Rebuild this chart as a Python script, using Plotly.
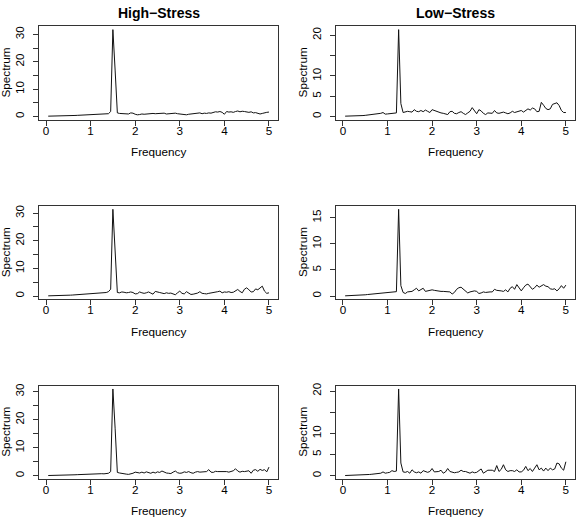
import plotly.graph_objects as go

W, H = 577, 527

# frequency grid (0.05 .. 5.00)
freq = [round(0.05 * k, 2) for k in range(1, 101)]

high_1 = [0.1,0.1,0.12,0.13,0.15,0.17,0.2,0.22,0.25,0.28,
          0.3,0.33,0.36,0.4,0.45,0.5,0.55,0.5,0.6,0.65,
          0.7,0.75,0.8,0.9,0.85,0.8,0.9,1.0,1.8,31.8,
          17,1.3,1.1,1.0,0.9,0.8,0.9,1.3,1.2,0.8,
          0.6,0.7,0.9,0.8,0.9,1.0,0.9,1.1,1.0,1.0,
          1.1,1.0,1.2,0.9,1.0,0.9,1.1,1.2,1.0,0.9,
          0.6,0.7,0.6,0.8,0.9,0.8,1.0,1.1,1.3,1.0,
          1.2,1.1,1.3,1.2,1.4,1.7,1.6,1.8,1.5,0.8,
          1.8,1.6,1.7,1.5,1.8,2.0,1.7,1.9,1.8,1.6,
          1.5,1.7,1.3,1.4,1.2,0.9,1.1,1.4,1.5,1.6]

low_1 = [0.1,0.1,0.12,0.14,0.16,0.18,0.2,0.22,0.25,0.3,
         0.35,0.45,0.5,0.5,0.55,0.6,0.8,1.0,0.6,0.65,
         0.7,0.75,0.7,0.9,21.4,3.2,1.0,1.1,1.3,1.2,
         1.1,1.7,1.3,1.2,1.5,1.2,1.6,1.3,1.0,1.7,
         1.5,1.3,1.0,0.9,0.8,0.6,0.5,1.2,1.3,0.8,
         0.7,1.0,1.2,0.8,0.5,0.9,1.3,2.2,1.3,0.7,
         1.7,1.4,0.8,0.5,0.9,0.9,0.8,1.5,0.9,0.8,
         0.9,1.1,0.9,0.7,0.9,1.3,1.0,1.2,1.3,1.5,
         1.1,1.5,1.9,1.6,2.1,1.9,1.2,1.3,3.5,2.8,
         2.0,1.7,1.9,3.0,3.2,3.4,2.7,1.5,1.0,1.0]

high_2 = [0.1,0.1,0.12,0.14,0.16,0.18,0.2,0.22,0.25,0.3,
          0.35,0.4,0.45,0.5,0.6,0.7,0.8,0.75,0.9,0.85,
          0.8,0.9,1.0,1.1,1.0,1.1,1.3,1.6,2.5,31.4,
          17,1.3,1.2,1.5,1.4,1.2,1.3,1.5,1.3,0.8,
          0.9,1.5,1.2,1.0,1.2,1.5,1.1,0.7,1.7,1.6,
          1.3,1.1,0.9,1.2,1.0,1.1,0.8,0.5,1.2,1.8,
          1.0,0.8,1.6,1.2,0.6,0.7,0.8,1.1,1.6,1.0,
          0.9,0.8,1.0,1.1,1.3,1.4,1.6,1.8,1.2,1.5,
          1.4,1.6,1.3,1.4,1.8,2.4,1.7,1.2,2.5,3.0,
          2.3,1.5,1.6,2.6,2.3,3.0,3.6,1.8,1.0,1.2]

low_2 = [0.05,0.06,0.08,0.1,0.12,0.15,0.18,0.2,0.22,0.25,
         0.3,0.35,0.4,0.45,0.5,0.55,0.6,0.65,0.7,0.7,
         0.75,0.8,0.8,0.85,16.6,2.0,0.7,0.5,0.8,0.8,
         0.9,1.2,1.5,1.0,1.2,1.5,0.9,1.0,1.1,1.2,
         1.1,1.0,0.9,0.9,0.9,0.9,0.9,0.8,0.4,0.7,
         1.3,1.6,1.7,1.3,1.0,0.6,0.8,0.9,1.0,0.9,
         0.5,0.6,0.8,0.7,0.8,0.8,0.8,1.3,1.1,1.1,
         1.0,0.9,1.2,0.8,1.5,1.8,1.3,2.2,1.6,1.0,
         1.6,2.1,2.3,1.8,1.3,1.6,2.1,1.7,2.0,2.2,
         1.9,1.8,1.4,1.3,1.4,1.0,1.4,2.0,1.5,2.1]

high_3 = [0.1,0.1,0.12,0.14,0.16,0.18,0.2,0.22,0.25,0.28,
          0.3,0.33,0.36,0.4,0.43,0.46,0.5,0.55,0.6,0.65,
          0.7,0.8,0.9,0.8,0.75,0.7,0.8,0.9,1.5,31.0,
          17,1.2,1.0,0.8,0.7,0.6,0.5,0.6,0.9,1.3,
          1.1,1.0,1.3,1.0,1.4,1.1,0.9,1.3,1.0,1.4,
          1.2,1.7,1.2,1.0,0.9,0.8,1.3,1.7,1.1,0.9,
          1.0,1.4,1.2,1.5,1.1,0.9,1.3,1.5,1.3,1.4,
          1.4,1.5,2.2,1.3,1.2,1.6,1.5,1.5,1.4,1.6,
          1.5,1.3,1.5,1.8,2.5,1.7,1.3,1.6,1.5,1.7,
          1.8,0.9,2.0,2.2,1.6,2.3,1.9,2.2,1.4,3.1]

low_3 = [0.05,0.06,0.08,0.1,0.12,0.14,0.16,0.18,0.2,0.23,
         0.26,0.3,0.35,0.4,0.45,0.5,0.6,0.9,0.6,0.7,
         0.8,1.2,1.0,1.1,20.5,3.0,0.9,0.8,1.0,0.6,
         1.4,0.9,0.7,0.9,0.6,1.2,0.9,0.8,1.0,1.7,
         0.9,0.9,1.0,1.3,0.6,0.9,1.7,1.0,0.9,0.7,
         0.8,0.9,1.3,1.0,1.0,0.8,0.6,0.9,0.7,0.8,
         1.1,1.6,0.6,0.9,1.3,1.3,1.3,1.0,2.4,1.0,
         1.5,2.6,1.4,1.0,1.2,1.2,1.0,1.4,0.9,0.9,
         1.3,2.2,1.2,1.7,1.0,1.8,2.6,1.4,1.8,1.1,
         1.8,1.2,1.8,1.4,1.6,3.0,2.8,1.8,1.3,3.3]

titles = ["High\u2212Stress", "Low\u2212Stress"]
x_label = "Frequency"
y_label = "Spectrum"
x_ticks = [0, 1, 2, 3, 4, 5]
high_yticks = [0, 5, 10, 15, 20, 25, 30]
high_ylabels = ["0", "", "10", "", "20", "", "30"]
low_yticks_a = [0, 5, 10, 15, 20]
low_ylabels_a = ["0", "5", "10", "", "20"]
low_yticks_b = [0, 5, 10, 15]
low_ylabels_b = ["0", "5", "10", "15"]

panels = [
    (high_1, high_yticks, high_ylabels), (low_1, low_yticks_a, low_ylabels_a),
    (high_2, high_yticks, high_ylabels), (low_2, low_yticks_b, low_ylabels_b),
    (high_3, high_yticks, high_ylabels), (low_3, low_yticks_a, low_ylabels_a),
]

# layout geometry (pixels)
col_x = [(39.4, 277.8), (336.3, 574.7)]
row_y = [(23.3, 117.3), (204.0, 298.0), (384.7, 478.7)]

FONT = "Liberation Sans, Arial, Helvetica, sans-serif"
FS = 11.7

fig = go.Figure()
layout = dict(
    width=W, height=H,
    margin=dict(l=0, r=0, t=0, b=0),
    paper_bgcolor="white", plot_bgcolor="white",
    showlegend=False,
    font=dict(family=FONT, size=FS, color="black"),
)
annotations = []

xr = [freq[0] - 0.04 * (freq[-1] - freq[0]), freq[-1] + 0.04 * (freq[-1] - freq[0])]

for i, (vals, yt, yl) in enumerate(panels):
    r, c = divmod(i, 2)
    n = i + 1
    xs = "" if n == 1 else str(n)
    x0, x1 = col_x[c]
    y0, y1 = row_y[r]
    fig.add_trace(go.Scatter(x=freq, y=vals, mode="lines",
                             line=dict(color="#111111", width=1),
                             xaxis="x" + xs, yaxis="y" + xs, hoverinfo="skip"))
    lo, hi = min(vals), max(vals)
    yr = [lo - 0.04 * (hi - lo), hi + 0.04 * (hi - lo)]
    common = dict(showline=True, mirror=True, linecolor="#333333", linewidth=1,
                  ticks="outside", ticklen=5, tickcolor="#333333", tickwidth=1,
                  showgrid=False, zeroline=False,
                  tickfont=dict(family=FONT, size=FS, color="black"))
    layout["xaxis" + xs] = dict(common, domain=[x0 / W, x1 / W], range=xr,
                                anchor="y" + xs, tickvals=x_ticks,
                                ticktext=[str(v) for v in x_ticks],
                                ticklabelstandoff=-5)
    layout["yaxis" + xs] = dict(common, domain=[1 - y1 / H, 1 - y0 / H], range=yr,
                                anchor="x" + xs, tickvals=yt, ticktext=yl,
                                tickangle=-90, ticklabelstandoff=5)
    cx = (x0 + x1) / 2
    cy = (y0 + y1) / 2
    annotations.append(dict(text=x_label, x=cx / W, y=1 - (y1 + 32) / H,
                            xref="paper", yref="paper", showarrow=False,
                            xanchor="center", yanchor="middle",
                            font=dict(family=FONT, size=FS, color="black")))
    annotations.append(dict(text=y_label, x=(x0 - 33.8) / W, y=1 - cy / H,
                            xref="paper", yref="paper", showarrow=False,
                            textangle=-90, xanchor="center", yanchor="middle",
                            font=dict(family=FONT, size=FS, color="black")))
    if r == 0:
        annotations.append(dict(text="<b>%s</b>" % titles[c], x=cx / W, y=1.0,
                                xref="paper", yref="paper", showarrow=False,
                                xanchor="center", yanchor="top",
                                font=dict(family=FONT, size=14, color="black")))

layout["annotations"] = annotations
fig.update_layout(**layout)
fig.write_html("out.html")
